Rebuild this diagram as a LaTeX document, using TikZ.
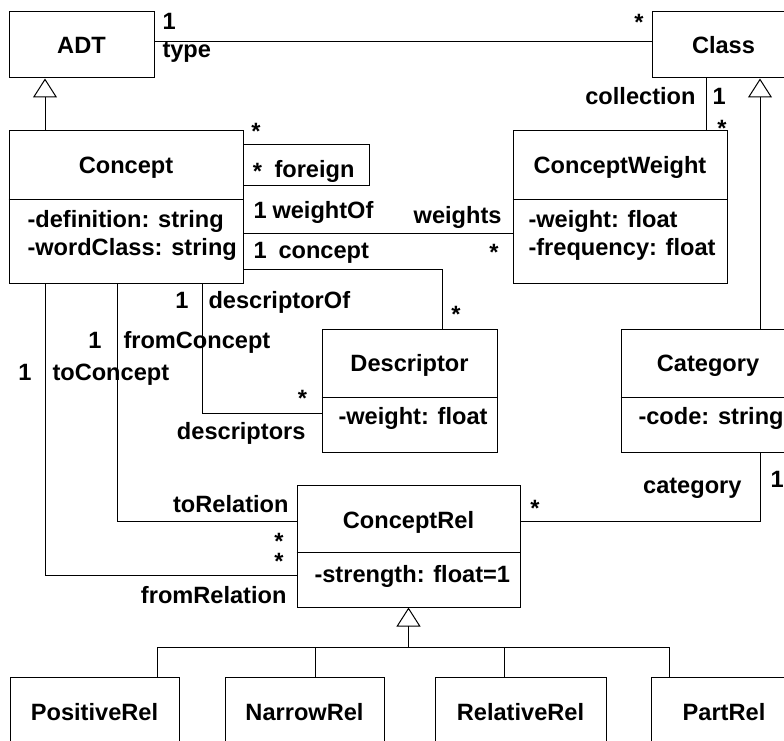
\documentclass[tikz,border=0pt]{standalone}
\usepackage{fontspec}
\setmainfont{Liberation Sans}
\usetikzlibrary{arrows.meta}

\tikzset{
    classbox/.style 2 args={draw, minimum width=#1, minimum height=#2},
    gen/.style={-{Triangle[open, length=19pt, width=24pt]}}
}

\begin{document}
\begin{tikzpicture}[x=1pt,y=-1pt,line width=1pt]
        \tikzstyle{every node} = [font=\fontsize{23.6pt}{28pt}\selectfont\bfseries, inner sep=0pt]
        \useasboundingbox (0,0) rectangle (784,741);
        \clip (0,0) rectangle (784,741);

        % classes
        \node[classbox={145pt}{66pt}] (adt) at (81.5,45) {ADT};
        \node[classbox={143pt}{66pt}] (cls) at (723.5,45) {Class};

        \node[classbox={234pt}{152pt}] (concept) at (126,207) {};
        \node[anchor=base] (concepttitle) at (126,173) {Concept};
        \draw (concept.west |- 0,199) -- (concept.east |- 0,199);
        \node[anchor=base west] (conceptdef) at (27,227) {-definition: string};
        \node[anchor=base west] (conceptwc) at (27,255) {-wordClass: string};

        \node[classbox={214pt}{152pt}] (cw) at (620,207) {};
        \node[anchor=base] (cwtitle) at (620,173) {ConceptWeight};
        \draw (cw.west |- 0,199) -- (cw.east |- 0,199);
        \node[anchor=base west] (cwweight) at (528,227) {-weight: float};
        \node[anchor=base west] (cwfreq) at (528,255) {-frequency: float};

        \node[classbox={175pt}{123pt}] (desc) at (409.5,390.5) {};
        \node[anchor=base] (desctitle) at (409.5,371) {Descriptor};
        \draw (desc.west |- 0,397) -- (desc.east |- 0,397);
        \node[anchor=base west] (descweight) at (338,424) {-weight: float};

        \node[classbox={174pt}{123pt}] (cat) at (708,390.5) {};
        \node[anchor=base] (cattitle) at (708,371) {Category};
        \draw (cat.west |- 0,397) -- (cat.east |- 0,397);
        \node[anchor=base west] (catcode) at (638,424) {-code: string};

        \node[classbox={223pt}{122pt}] (crel) at (408.5,546) {};
        \node[anchor=base] (creltitle) at (408.5,528) {ConceptRel};
        \draw (crel.west |- 0,552) -- (crel.east |- 0,552);
        \node[anchor=base west] (crelstrength) at (314,582) {-strength: float=1};

        \node[classbox={169pt}{70pt}] (posrel) at (94.5,712) {PositiveRel};
        \node[classbox={159pt}{70pt}] (narrowrel) at (304.5,712) {NarrowRel};
        \node[classbox={171pt}{70pt}] (relrel) at (520.5,712) {RelativeRel};
        \node[classbox={146pt}{70pt}] (partrel) at (724,712) {PartRel};

        % generalisations
        \draw[gen] (concept.north -| 45,0) -- (adt.south -| 45,0);
        \draw[gen] (cat.north -| 760,0) -- (cls.south -| 760,0);
        \draw[gen] (crel.south |- 0,647) -- (crel.south);
        \draw (157,647) -- (669,647);
        \foreach \n/\x in {posrel/157, narrowrel/315, relrel/504, partrel/669}{
            \draw (\n.north -| \x,0) -- (\x,647);
        }

        % associations
        \draw ([yshift=3pt]adt.east) -- ([yshift=3pt]cls.west);
        \draw (cls.south -| 706,0) -- (cw.north -| 706,0);
        \draw (concept.east |- 0,144) -| (369,185) -- (concept.east |- 0,185);
        \draw (concept.east |- 0,233) -- (cw.west |- 0,233);
        \draw (concept.east |- 0,269) -| (desc.north -| 442,0);
        \draw (concept.south -| 202,0) |- (desc.west |- 0,413);
        \draw (concept.south -| 117,0) |- (crel.west |- 0,521);
        \draw (concept.south -| 45,0) |- (crel.west |- 0,575);
        \draw (cat.south -| 760,0) |- (crel.east |- 0,521);

        % roles and multiplicities
        \node[anchor=base west] (adtone) at (162,30) {1};
        \node[anchor=base west] (typelbl) at (162,58) {type};
        \node[anchor=base] (clsstar) at (639,30.5) {*};
        \node[anchor=base east] (collectionlbl) at (696,105) {collection};
        \node[anchor=base west] (collone) at (712,105) {1};
        \node[anchor=base] (collstar) at (722,136) {*};
        \node[anchor=base] (foreignstar) at (256,139.5) {*};
        \node[anchor=base] (foreignstarb) at (257.5,179.5) {*};
        \node[anchor=base west] (foreignlbl) at (274,177) {foreign};
        \node[anchor=base west] (weightofone) at (253,218) {1};
        \node[anchor=base west] (weightoflbl) at (272,218) {weightOf};
        \node[anchor=base west] (conceptone) at (253,258) {1};
        \node[anchor=base west] (conceptlbl) at (278,258) {concept};
        \node[anchor=base east] (weightslbl) at (502,223) {weights};
        \node[anchor=base] (weightsstar) at (494,260.5) {*};
        \node[anchor=base] (descstar) at (456,322.5) {*};
        \node[anchor=base east] (descofone) at (189,308) {1};
        \node[anchor=base west] (descoflbl) at (208,308) {descriptorOf};
        \node[anchor=base east] (fromcone) at (102,348) {1};
        \node[anchor=base west] (fromclbl) at (123,348) {fromConcept};
        \node[anchor=base east] (tocone) at (32,380) {1};
        \node[anchor=base west] (toclbl) at (52,380) {toConcept};
        \node[anchor=base] (descsstar) at (302.5,406.5) {*};
        \node[anchor=base east] (descslbl) at (306,439) {descriptors};
        \node[anchor=base east] (torellbl) at (289,512) {toRelation};
        \node[anchor=base] (torelstar) at (279,549.5) {*};
        \node[anchor=base] (fromrelstar) at (279,569) {*};
        \node[anchor=base east] (fromrellbl) at (287,603) {fromRelation};
        \node[anchor=base] (catstar) at (535,516.5) {*};
        \node[anchor=base east] (catlbl) at (742,493) {category};
        \node[anchor=base west] (catone) at (770,487) {1};
\end{tikzpicture}
\end{document}
